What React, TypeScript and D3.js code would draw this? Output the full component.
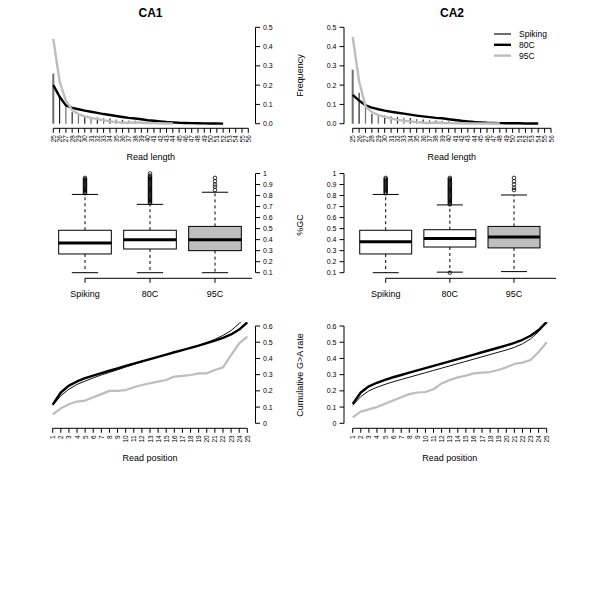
import React from 'react';
import * as d3 from 'd3';

// ---------- data ----------
const lengthTicks = d3.range(25, 57);
const groups = ['Spiking', '80C', '95C'];
const positions = d3.range(1, 26);

// Read-length frequency (starting at length 25)
const ca1SpikingFreq = [0.26, 0.15, 0.09, 0.06, 0.045, 0.04, 0.035, 0.032, 0.03, 0.027, 0.022, 0.02, 0.017, 0.015, 0.012, 0.01, 0.008, 0.006, 0.004, 0.003, 0.002, 0.002, 0.001, 0.001];
const ca180CFreq = [0.2, 0.14, 0.095, 0.082, 0.075, 0.068, 0.062, 0.056, 0.05, 0.045, 0.04, 0.035, 0.03, 0.027, 0.023, 0.018, 0.015, 0.012, 0.009, 0.007, 0.005, 0.004, 0.003, 0.002, 0.0015, 0.001, 0.001, 0.0005];
const ca195CFreq = [0.44, 0.22, 0.12, 0.07, 0.05, 0.038, 0.03, 0.024, 0.018, 0.012, 0.008, 0.006, 0.005, 0.007, 0.005, 0.004, 0.003, 0.002, 0.001, 0.001];

const ca2SpikingFreq = [0.28, 0.16, 0.09, 0.05, 0.045, 0.042, 0.04, 0.035, 0.032, 0.03, 0.025, 0.022, 0.02, 0.017, 0.015, 0.012, 0.01, 0.008, 0.006, 0.005, 0.004, 0.003, 0.002, 0.001];
const ca280CFreq = [0.15, 0.12, 0.095, 0.083, 0.075, 0.068, 0.062, 0.057, 0.052, 0.047, 0.042, 0.038, 0.034, 0.03, 0.028, 0.023, 0.019, 0.015, 0.012, 0.009, 0.007, 0.005, 0.004, 0.003, 0.002, 0.002, 0.002, 0.001, 0.001, 0.001];
const ca295CFreq = [0.45, 0.22, 0.09, 0.06, 0.045, 0.035, 0.027, 0.02, 0.015, 0.012, 0.008, 0.005, 0.004, 0.006, 0.004, 0.003, 0.002, 0.002, 0.001, 0.001, 0.001, 0.001, 0.001, 0.001];

// %GC boxplots (Spiking, 80C, 95C)
const ca1Q1 = [0.27, 0.315, 0.3];
const ca1Median = [0.37, 0.4, 0.4];
const ca1Q3 = [0.485, 0.485, 0.52];
const ca1WhiskerLo = [0.1, 0.1, 0.1];
const ca1WhiskerHi = [0.81, 0.72, 0.83];
const ca1SpikingOut = [0.82, 0.83, 0.84, 0.85, 0.86, 0.87, 0.88, 0.89, 0.9, 0.91, 0.92, 0.93, 0.94, 0.95, 0.96];
const ca180COut = [0.73, 0.74, 0.75, 0.76, 0.77, 0.78, 0.79, 0.8, 0.81, 0.82, 0.83, 0.84, 0.85, 0.86, 0.87, 0.88, 0.89, 0.9, 0.91, 0.92, 0.93, 0.94, 0.95, 0.96, 0.97, 0.98, 1.0];
const ca195COut = [0.85, 0.88, 0.9, 0.93, 0.96];

const ca2Q1 = [0.27, 0.333, 0.325];
const ca2Median = [0.38, 0.41, 0.425];
const ca2Q3 = [0.485, 0.49, 0.52];
const ca2WhiskerLo = [0.1, 0.105, 0.11];
const ca2WhiskerHi = [0.81, 0.715, 0.805];
const ca2SpikingOut = [0.82, 0.83, 0.84, 0.85, 0.86, 0.87, 0.88, 0.89, 0.9, 0.91, 0.92, 0.93, 0.94, 0.95, 0.96];
const ca280COut = [0.1, 0.72, 0.73, 0.74, 0.75, 0.76, 0.77, 0.78, 0.79, 0.8, 0.81, 0.82, 0.83, 0.84, 0.85, 0.86, 0.87, 0.88, 0.89, 0.9, 0.91, 0.92, 0.93, 0.94, 0.95, 0.96];
const ca295COut = [0.85, 0.87, 0.9, 0.93, 0.96];

// Cumulative G>A rate by read position 1..25
const ca1CumSpiking = [0.11, 0.17, 0.21, 0.24, 0.26, 0.28, 0.298, 0.314, 0.33, 0.347, 0.363, 0.379, 0.394, 0.409, 0.424, 0.438, 0.452, 0.466, 0.48, 0.498, 0.518, 0.542, 0.572, 0.615, 0.67];
const ca1Cum80C = [0.115, 0.19, 0.232, 0.258, 0.278, 0.294, 0.309, 0.324, 0.339, 0.354, 0.368, 0.382, 0.396, 0.41, 0.424, 0.438, 0.451, 0.465, 0.479, 0.494, 0.51, 0.527, 0.548, 0.578, 0.622];
const ca1Cum95C = [0.055, 0.092, 0.117, 0.134, 0.14, 0.16, 0.18, 0.2, 0.2, 0.205, 0.222, 0.236, 0.247, 0.257, 0.267, 0.288, 0.292, 0.298, 0.308, 0.308, 0.329, 0.345, 0.42, 0.493, 0.534];

const ca2CumSpiking = [0.11, 0.165, 0.2, 0.222, 0.24, 0.256, 0.27, 0.284, 0.298, 0.312, 0.326, 0.34, 0.354, 0.368, 0.382, 0.396, 0.41, 0.424, 0.438, 0.452, 0.468, 0.49, 0.52, 0.565, 0.62];
const ca2Cum80C = [0.12, 0.19, 0.228, 0.25, 0.268, 0.284, 0.298, 0.312, 0.326, 0.34, 0.354, 0.368, 0.382, 0.396, 0.41, 0.424, 0.438, 0.452, 0.466, 0.48, 0.496, 0.515, 0.54, 0.575, 0.625];
const ca2Cum95C = [0.037, 0.072, 0.086, 0.1, 0.12, 0.14, 0.16, 0.18, 0.19, 0.193, 0.21, 0.246, 0.267, 0.283, 0.294, 0.308, 0.312, 0.316, 0.329, 0.345, 0.366, 0.374, 0.39, 0.44, 0.5];

const freqTicks = [0, 0.1, 0.2, 0.3, 0.4, 0.5];
const gcTicks = [0.1, 0.2, 0.3, 0.4, 0.5, 0.6, 0.7, 0.8, 0.9, 1];
const cumTicks = [0, 0.1, 0.2, 0.3, 0.4, 0.5, 0.6];

// ---------- styles ----------
const FONT = 'Liberation Sans, Arial, Helvetica, sans-serif';
const COL_SPIKE = '#6e6e6e';
const COL_80 = '#000000';
const COL_95 = '#bdbdbd';
const BOX_FILL = ['#ffffff', '#ffffff', '#bebebe'];

type Side = 'left' | 'right';

function YAxis({ x, scale, ticks, side, fmt, fontSize = 7 }: any) {
  const dir = side === 'right' ? 1 : -1;
  const y0 = scale(ticks[0]);
  const y1 = scale(ticks[ticks.length - 1]);
  return (
    <g>
      <line x1={x} x2={x} y1={y0} y2={y1} stroke="#000" strokeWidth={1} />
      {ticks.map((t: number) => (
        <g key={t}>
          <line x1={x} x2={x + dir * 4.5} y1={scale(t)} y2={scale(t)} stroke="#000" strokeWidth={1} />
          <text
            x={x + dir * 7.5}
            y={scale(t)}
            fontSize={fontSize}
            textAnchor={side === 'right' ? 'start' : 'end'}
            dominantBaseline="central"
            fill="#000"
          >
            {fmt(t)}
          </text>
        </g>
      ))}
    </g>
  );
}

function RotXAxis({ y, scale, ticks, fontSize = 6.3 }: any) {
  return (
    <g>
      <line x1={scale(ticks[0])} x2={scale(ticks[ticks.length - 1])} y1={y} y2={y} stroke="#000" strokeWidth={1} />
      {ticks.map((t: number) => (
        <g key={t}>
          <line x1={scale(t)} x2={scale(t)} y1={y} y2={y + 4.5} stroke="#000" strokeWidth={1} />
          <text
            transform={`translate(${scale(t)},${y + 7}) rotate(-90)`}
            fontSize={fontSize}
            textAnchor="end"
            dominantBaseline="central"
            fill="#000"
          >
            {t}
          </text>
        </g>
      ))}
    </g>
  );
}

function LengthPanel({ x0, x1, side, spiking, f80, f95, legend }: any) {
  const x = d3.scaleLinear().domain([25, 56]).range([x0, x1]);
  const y = d3.scaleLinear().domain([0, 0.5]).range([123.7, 27.3]);
  const axisX = side === 'right' ? 255.5 : 344;
  const line = d3.line<number>().x((_, i) => x(25 + i)).y((d) => y(d));
  const cx = (x0 + x1) / 2;
  return (
    <g>
      {spiking.map((v: number, i: number) => (
        <line key={i} x1={x(25 + i)} x2={x(25 + i)} y1={y(0)} y2={y(v)} stroke={i % 2 === 0 ? COL_SPIKE : '#222'} strokeWidth={i === 0 ? 2 : 1.2} />
      ))}
      <path d={line(f80) || ''} fill="none" stroke={COL_80} strokeWidth={2.4} strokeLinejoin="round" />
      <path d={line(f95) || ''} fill="none" stroke={COL_95} strokeWidth={2.4} strokeLinejoin="round" />
      <YAxis x={axisX} scale={y} ticks={freqTicks} side={side} fmt={d3.format('.1f')} />
      <RotXAxis y={128.3} scale={x} ticks={lengthTicks} />
      <text x={cx} y={157} fontSize={9} textAnchor="middle" dominantBaseline="central">Read length</text>
      {legend && (
        <g>
          {[
            { label: 'Spiking', col: COL_SPIKE, w: 2 },
            { label: '80C', col: COL_80, w: 2.4 },
            { label: '95C', col: COL_95, w: 2.4 },
          ].map((d, i) => (
            <g key={d.label}>
              <line x1={494} x2={511} y1={34 + i * 10.8} y2={34 + i * 10.8} stroke={d.col} strokeWidth={d.w} />
              <text x={519} y={34 + i * 10.8} fontSize={8.5} dominantBaseline="central">{d.label}</text>
            </g>
          ))}
        </g>
      )}
    </g>
  );
}

function BoxPanel({ x0, x1, side, q1, med, q3, lo, hi, outs, axisEnd }: any) {
  const x = d3.scalePoint<string>().domain(groups).range([x0, x1]);
  const y = d3.scaleLinear().domain([0.1, 1]).range([272.7, 173.5]);
  const axisX = side === 'right' ? 255.5 : 344;
  const step = x1 - x0;
  const bw = step / 2 * 0.81;
  const baseY = 278.3;
  return (
    <g>
      {groups.map((g, i) => {
        const cx = x(g) as number;
        return (
          <g key={g}>
            <line x1={cx} x2={cx} y1={y(q3[i])} y2={y(hi[i])} stroke="#000" strokeDasharray="3,3" strokeWidth={1} />
            <line x1={cx} x2={cx} y1={y(q1[i])} y2={y(lo[i])} stroke="#000" strokeDasharray="3,3" strokeWidth={1} />
            <line x1={cx - bw / 4} x2={cx + bw / 4} y1={y(hi[i])} y2={y(hi[i])} stroke="#000" strokeWidth={1} />
            <line x1={cx - bw / 4} x2={cx + bw / 4} y1={y(lo[i])} y2={y(lo[i])} stroke="#000" strokeWidth={1} />
            <rect x={cx - bw / 2} y={y(q3[i])} width={bw} height={y(q1[i]) - y(q3[i])} fill={BOX_FILL[i]} stroke="#000" strokeWidth={1} />
            <line x1={cx - bw / 2} x2={cx + bw / 2} y1={y(med[i])} y2={y(med[i])} stroke="#000" strokeWidth={3} />
            {outs[i].map((v: number, k: number) => (
              <circle key={k} cx={cx} cy={y(v)} r={1.8} fill="none" stroke="#000" strokeWidth={0.8} />
            ))}
            <line x1={cx} x2={cx} y1={baseY} y2={baseY + 4.5} stroke="#000" strokeWidth={1} />
            <text x={cx} y={293.5} fontSize={9} textAnchor="middle" dominantBaseline="central">{g}</text>
          </g>
        );
      })}
      <line x1={x0} x2={axisEnd} y1={baseY} y2={baseY} stroke="#000" strokeWidth={1} />
      <YAxis x={axisX} scale={y} ticks={gcTicks} side={side} fmt={(t: number) => (t === 1 ? '1' : t.toFixed(1))} />
    </g>
  );
}

function CumPanel({ x0, x1, side, cs, c80, c95, clipId, clipX }: any) {
  const x = d3.scaleLinear().domain([1, 25]).range([x0, x1]);
  const y = d3.scaleLinear().domain([0, 0.6]).range([423.3, 326]);
  const axisX = side === 'right' ? 255.5 : 344;
  const line = d3.line<number>().x((_, i) => x(1 + i)).y((d) => y(d));
  return (
    <g>
      <defs>
        <clipPath id={clipId}>
          <rect x={clipX} y={322} width={211} height={106} />
        </clipPath>
      </defs>
      <g clipPath={`url(#${clipId})`}>
        <path d={line(c95) || ''} fill="none" stroke={COL_95} strokeWidth={2.2} strokeLinejoin="round" />
        <path d={line(cs) || ''} fill="none" stroke="#111" strokeWidth={1} strokeLinejoin="round" />
        <path d={line(c80) || ''} fill="none" stroke={COL_80} strokeWidth={2.4} strokeLinejoin="round" />
      </g>
      <YAxis x={axisX} scale={y} ticks={cumTicks} side={side} fmt={(t: number) => (t === 0 ? '0' : t.toFixed(1))} />
      <RotXAxis y={428.3} scale={x} ticks={positions} fontSize={6.5} />
      <text x={(x0 + x1) / 2} y={458} fontSize={9} textAnchor="middle" dominantBaseline="central">Read position</text>
    </g>
  );
}

export default function App() {
  return (
    <svg
      width={600}
      height={600}
      viewBox="0 0 600 600"
      style={{ position: 'absolute', left: 0, top: 0, background: '#fff' }}
      fontFamily={FONT}
    >
      <rect x={0} y={0} width={600} height={600} fill="#fff" />
      <text x={150.5} y={13} fontSize={12} fontWeight="bold" textAnchor="middle" dominantBaseline="central">CA1</text>
      <text x={452} y={13} fontSize={12} fontWeight="bold" textAnchor="middle" dominantBaseline="central">CA2</text>

      <LengthPanel x0={53.3} x1={248.3} side="right" spiking={ca1SpikingFreq} f80={ca180CFreq} f95={ca195CFreq} />
      <LengthPanel x0={352.7} x1={551} side="left" spiking={ca2SpikingFreq} f80={ca280CFreq} f95={ca295CFreq} legend />
      <text transform="translate(300,75.5) rotate(-90)" fontSize={9} textAnchor="middle" dominantBaseline="central">Frequency</text>

      <BoxPanel x0={85} x1={215} side="right" q1={ca1Q1} med={ca1Median} q3={ca1Q3} lo={ca1WhiskerLo} hi={ca1WhiskerHi} outs={[ca1SpikingOut, ca180COut, ca195COut]} axisEnd={252} />
      <BoxPanel x0={385.7} x1={514} side="left" q1={ca2Q1} med={ca2Median} q3={ca2Q3} lo={ca2WhiskerLo} hi={ca2WhiskerHi} outs={[ca2SpikingOut, ca280COut, ca295COut]} axisEnd={556} />
      <text transform="translate(300,225) rotate(-90)" fontSize={9} textAnchor="middle" dominantBaseline="central">%GC</text>

      <CumPanel x0={52.7} x1={247.3} side="right" cs={ca1CumSpiking} c80={ca1Cum80C} c95={ca1Cum95C} clipId="clipL" clipX={44.9} />
      <CumPanel x0={352.7} x1={546.7} side="left" cs={ca2CumSpiking} c80={ca2Cum80C} c95={ca2Cum95C} clipId="clipR" clipX={344.5} />
      <text transform="translate(300,375) rotate(-90)" fontSize={9} textAnchor="middle" dominantBaseline="central">Cumulative G&gt;A rate</text>
    </svg>
  );
}
